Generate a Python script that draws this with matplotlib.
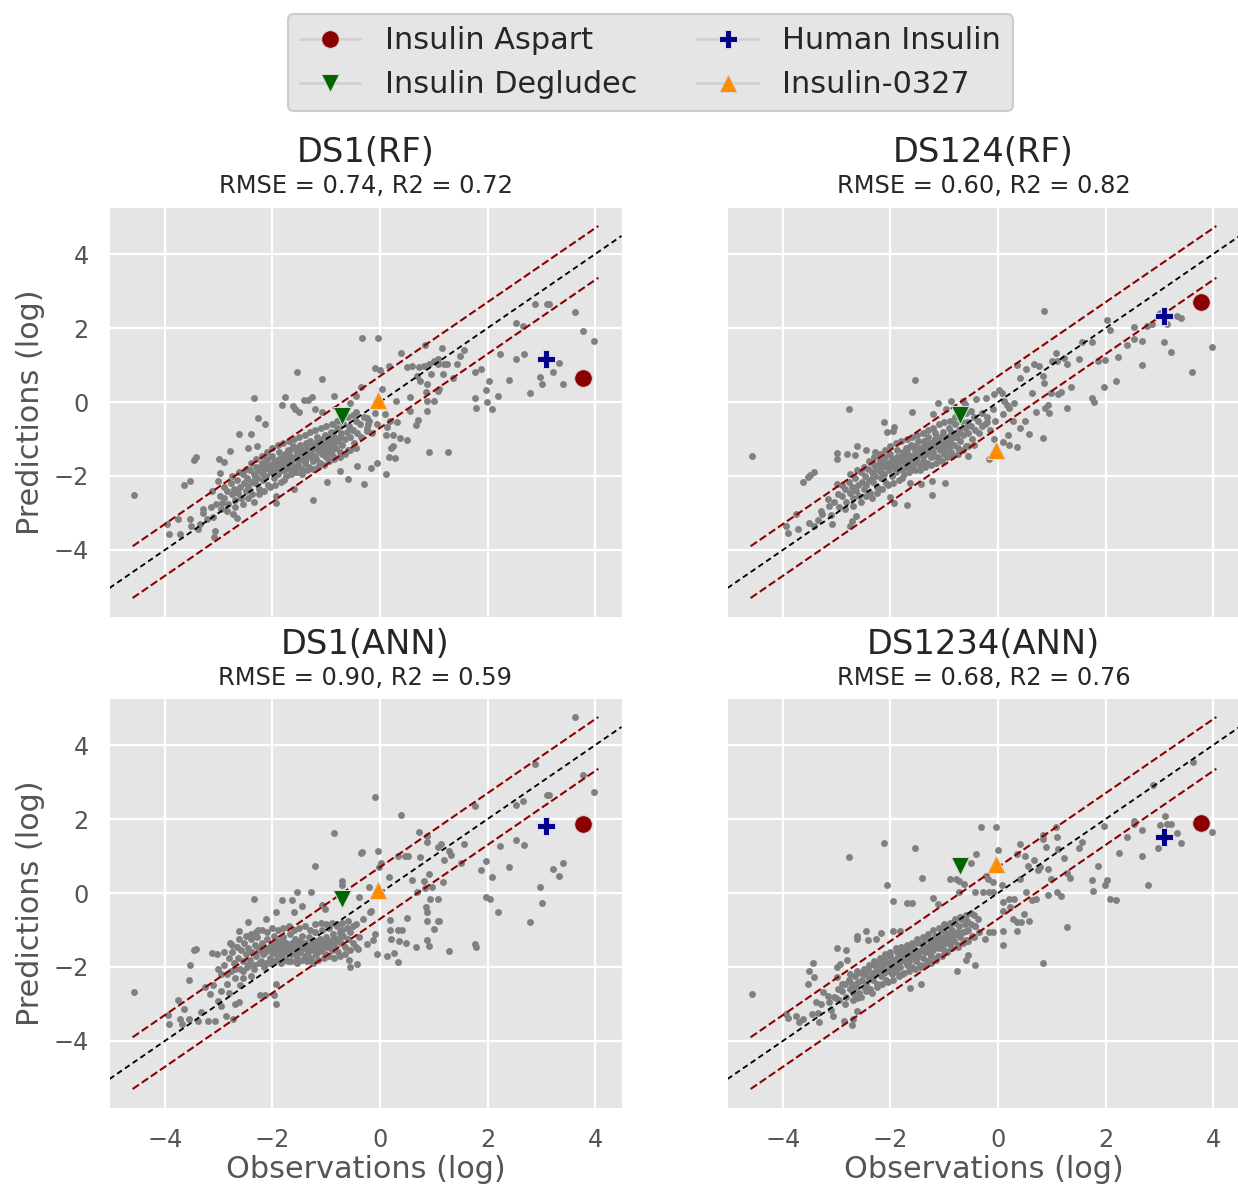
import matplotlib
matplotlib.use("Agg")
import matplotlib.pyplot as plt
import numpy as np

# ---------------- data ----------------
panel_titles = ["DS1(RF)", "DS124(RF)", "DS1(ANN)", "DS1234(ANN)"]
panel_stats = ["RMSE = 0.74, R2 = 0.72", "RMSE = 0.60, R2 = 0.82",
               "RMSE = 0.90, R2 = 0.59", "RMSE = 0.68, R2 = 0.76"]

insulin_names = ["Insulin Aspart", "Insulin Degludec", "Human Insulin", "Insulin-0327"]
insulin_obs = [3.78, -0.70, 3.08, -0.03]
insulin_pred_ds1_rf = [0.66, -0.37, 1.17, 0.06]
insulin_pred_ds124_rf = [2.70, -0.36, 2.33, -1.29]
insulin_pred_ds1_ann = [1.87, -0.15, 1.82, 0.08]
insulin_pred_ds1234_ann = [1.89, 0.72, 1.51, 0.78]

band_offset = 0.7
obs_min, obs_max = -4.6, 4.06

ds1_rf_points = [
    (-4.58, -2.52), (-3.92, -3.56), (-3.96, -3.31), (-3.76, -3.17), (-3.71, -3.58), (-3.64, -2.25),
    (-3.54, -2.14), (-3.46, -1.56), (-3.42, -1.49), (-3.54, -3.17), (-3.51, -3.35), (-3.39, -3.44),
    (-3.29, -2.90), (-3.21, -3.17), (-3.13, -2.41), (-3.08, -3.65), (-3.07, -3.49), (-3.00, -1.53),
    (-2.98, -1.91), (-2.90, -1.62), (-2.93, -2.72), (-3.01, -2.14), (-2.79, -1.33), (-2.63, -0.86),
    (-2.66, -3.13), (-2.73, -3.04), (-2.45, -1.24), (-2.40, -0.87), (-2.34, 0.12), (-2.26, -0.42),
    (-2.13, -0.59), (-2.29, -1.19), (-1.94, -2.54), (-1.94, -2.72), (-1.82, -0.08), (-1.77, 0.14),
    (-1.62, -0.11), (-1.58, -0.20), (-1.55, 0.82), (-1.50, -0.26), (-1.42, 0.06), (-1.34, 0.05),
    (-1.27, 0.14), (-1.20, -0.20), (-1.08, 0.61), (-1.08, -0.26), (-1.60, -2.36), (-1.24, -2.66),
    (-0.98, -2.16), (-0.60, -2.09), (-0.29, -2.23), (-0.75, -1.87), (-0.43, -1.73), (-0.17, -1.78),
    (-0.06, -1.65), (0.11, -1.96), (-0.33, 1.72), (-0.03, 1.72), (-0.36, 0.41), (-0.44, 0.16),
    (-0.55, -0.02), (-0.85, 0.16), (-0.65, -0.26), (-0.44, -0.26), (-0.25, -0.42), (-0.23, -0.59),
    (-0.25, -0.78), (-0.09, 0.93), (0.00, 0.86), (0.16, 0.97), (0.03, 0.34), (0.30, 0.03),
    (0.09, -0.33), (0.19, -0.51), (0.31, -0.53), (0.13, -0.68), (0.24, -0.89), (0.11, -0.90),
    (0.38, -0.96), (0.50, -1.04), (0.25, -1.19), (0.20, -1.25), (0.16, -1.48), (0.27, -1.52),
    (0.39, 1.33), (0.51, 0.95), (0.56, 0.14), (0.55, -0.23), (0.66, -0.62), (0.70, -0.49),
    (0.75, 0.57), (0.85, 0.28), (0.87, 0.03), (0.87, -0.24), (1.00, 0.03), (0.83, 1.54),
    (0.91, -1.34), (1.27, -1.35), (1.10, 0.34), (1.08, 0.30), (1.35, 0.66), (1.16, 1.47),
    (1.49, 1.24), (1.57, 1.42), (1.18, 0.75), (1.76, 0.82), (1.88, 0.88), (1.76, 0.12),
    (1.78, -0.15), (1.97, 0.32), (1.99, 0.00), (2.03, 0.57), (2.08, -0.18), (2.19, 0.16),
    (2.24, 1.29), (2.39, 0.59), (2.52, 2.13), (2.52, 1.15), (2.66, 2.06), (2.68, 1.29),
    (2.79, 0.24), (2.88, 2.64), (2.98, 0.68), (3.01, 0.50), (3.10, 2.66), (3.15, 2.66),
    (3.22, 0.81), (3.32, 1.06), (3.40, 0.50), (3.62, 2.43), (3.77, 1.92), (3.98, 1.65),
    (0.60, 0.97), (0.72, 0.96), (0.82, 0.97), (0.91, 1.02), (1.00, 1.11), (1.07, 1.04),
    (1.19, 1.04), (1.25, 1.02), (0.94, 0.75), (0.69, 0.70), (0.88, 0.50), (1.07, 1.15), (1.44, 1.04),
    (-3.05, -2.75), (-2.98, -2.55), (-2.95, -2.90), (-2.90, -2.60), (-2.85, -2.40), (-2.82, -2.75),
    (-2.78, -2.20), (-2.75, -2.50), (-2.72, -2.35), (-2.70, -2.65), (-2.66, -2.10), (-2.64, -2.45),
    (-2.60, -2.30), (-2.58, -2.60), (-2.55, -1.95), (-2.52, -2.20), (-2.50, -2.40), (-2.48, -2.05),
    (-2.45, -2.30), (-2.42, -1.85), (-2.40, -2.15), (-2.38, -2.50), (-2.35, -1.95), (-2.32, -2.20),
    (-2.30, -1.75), (-2.28, -2.05), (-2.25, -2.35), (-2.22, -1.90), (-2.20, -1.65), (-2.18, -2.10),
    (-2.15, -1.80), (-2.12, -2.00), (-2.10, -1.55), (-2.08, -2.25), (-2.05, -1.70), (-2.02, -1.90),
    (-2.00, -1.45), (-1.98, -2.05), (-1.95, -1.75), (-1.92, -1.60), (-1.90, -1.95), (-1.88, -1.35),
    (-1.85, -1.70), (-1.82, -1.85), (-1.80, -1.50), (-1.78, -2.10), (-1.75, -1.60), (-1.72, -1.30),
    (-1.70, -1.80), (-1.68, -1.45), (-1.65, -1.65), (-1.62, -1.20), (-1.60, -1.90), (-1.58, -1.50),
    (-1.55, -1.35), (-1.52, -1.70), (-1.50, -1.55), (-1.48, -1.15), (-1.45, -1.80), (-1.42, -1.40),
    (-1.40, -1.60), (-1.38, -1.25), (-1.35, -1.50), (-1.32, -1.75), (-1.30, -1.05), (-1.28, -1.35),
    (-1.25, -1.60), (-1.22, -1.20), (-1.20, -1.45), (-1.18, -0.95), (-1.15, -1.30), (-1.12, -1.65),
    (-1.10, -1.10), (-1.08, -1.40), (-1.05, -1.20), (-1.02, -0.90), (-1.00, -1.50), (-0.98, -1.05),
    (-0.95, -1.30), (-0.92, -0.80), (-0.90, -1.15), (-0.88, -1.45), (-0.85, -0.95), (-0.82, -1.25),
    (-0.80, -0.70), (-0.78, -1.05), (-0.75, -1.35), (-0.72, -0.85), (-0.70, -1.15), (-0.68, -0.60),
    (-0.65, -1.00), (-0.62, -0.80), (-0.60, -1.30), (-0.58, -0.65), (-0.55, -0.95), (-0.50, -0.75),
    (-0.48, -1.10), (-0.45, -0.50), (-0.42, -0.85), (-0.38, -0.60), (-0.35, -0.95), (-0.30, -0.40),
    (-0.25, -0.70), (-0.20, -0.50), (-0.15, -0.85), (-0.10, -0.30), (-0.05, -0.60),
    (-2.27, -1.85), (-2.13, -1.70), (-1.97, -1.60), (-1.87, -1.55), (-1.77, -1.40), (-1.67, -1.30),
    (-1.57, -1.25), (-1.47, -1.30), (-1.37, -1.10), (-1.27, -1.15), (-1.17, -1.05), (-1.07, -1.00),
    (-0.97, -1.20), (-0.87, -0.85), (-2.33, -2.05), (-2.17, -1.95), (-1.93, -1.80), (-1.73, -1.70),
    (-1.53, -1.60), (-1.33, -1.40), (-1.13, -1.25), (-0.93, -1.00),
    (-3.30, -3.00), (-3.15, -2.85), (-3.10, -3.10), (-3.35, -3.30),
]
ds1_rf_core_extra = [
    (-2.90, -2.30), (-2.85, -2.95), (-2.75, -2.00), (-2.70, -2.85), (-2.62, -1.90), (-2.55, -2.75),
    (-2.50, -1.80), (-2.45, -2.60), (-2.40, -1.65), (-2.35, -2.70), (-2.30, -1.55), (-2.25, -2.50),
    (-2.20, -1.45), (-2.15, -2.40), (-2.10, -1.35), (-2.05, -2.30), (-2.00, -1.25), (-1.95, -2.25),
    (-1.90, -1.15), (-1.85, -2.15), (-1.80, -1.10), (-1.75, -2.00), (-1.70, -1.05), (-1.65, -1.95),
    (-1.60, -1.00), (-1.55, -1.90), (-1.50, -0.95), (-1.45, -1.95), (-1.40, -0.90), (-1.35, -1.85),
    (-1.30, -0.80), (-1.25, -1.80), (-1.20, -0.75), (-1.15, -1.75), (-1.10, -0.70), (-1.05, -1.70),
    (-1.00, -0.65), (-0.95, -1.60), (-0.90, -0.60), (-0.85, -1.55), (-0.80, -0.50), (-0.75, -1.50),
    (-0.70, -0.45), (-0.65, -1.40), (-0.60, -0.40), (-0.55, -1.30), (-0.50, -0.35), (-0.45, -1.25),
    (-2.24, -1.75), (-2.06, -1.80), (-1.96, -1.70), (-1.84, -1.60), (-1.74, -1.50), (-1.64, -1.55),
    (-1.54, -1.45), (-1.44, -1.50), (-1.34, -1.30), (-1.24, -1.25), (-1.14, -1.15), (-1.04, -1.30),
    (-0.94, -1.10), (-0.84, -1.05), (-0.74, -0.95), (-1.89, -1.75), (-1.69, -1.55), (-1.49, -1.40),
    (-1.29, -1.50), (-1.09, -1.35), (-0.89, -1.30), (-1.79, -1.85), (-1.59, -1.75), (-1.39, -1.65),
    (-1.19, -1.55), (-0.99, -1.40),
]

ds124_rf_points = [
    (-4.57, -1.46), (-3.94, -3.35), (-3.90, -3.55), (-3.75, -3.04), (-3.71, -3.44), (-3.62, -2.16),
    (-3.54, -2.03), (-3.49, -1.97), (-3.42, -1.88), (-3.52, -3.26), (-3.43, -3.35), (-3.27, -3.04),
    (-3.17, -2.63), (-3.08, -3.31), (-3.00, -1.37), (-2.99, -1.53), (-3.00, -2.23), (-2.78, -0.20),
    (-2.80, -1.40), (-2.75, -3.34), (-2.71, -3.22), (-2.63, -1.19), (-2.66, -1.42), (-2.64, -3.08),
    (-2.46, -1.31), (-2.29, -1.34), (-2.12, -0.54), (-2.07, -0.80), (-1.94, -0.68), (-1.95, -0.78),
    (-2.00, -2.57), (-1.94, -2.72), (-1.70, -2.79), (-1.60, -0.26), (-1.54, 0.60), (-1.64, -2.18),
    (-1.44, -2.23), (-1.23, -2.52), (-1.23, -2.14), (-0.98, -2.20), (-1.12, -0.04), (-1.21, -0.33),
    (-0.96, -0.20), (-0.87, 0.03), (-0.65, 0.03), (-0.62, -0.06), (-0.56, -1.46), (-0.41, 0.09),
    (-0.22, 0.12), (-0.07, 0.21), (-0.16, -1.55), (-0.08, -0.99), (0.09, -0.33), (0.16, -0.08),
    (0.12, 0.03), (0.07, 0.25), (0.02, 0.32), (0.30, -0.02), (0.21, -0.17), (0.27, -0.51),
    (0.18, -0.90), (0.10, -1.07), (0.20, -1.16), (0.36, -1.22), (0.41, -0.71), (0.51, -0.50),
    (0.58, -0.87), (0.70, -0.26), (0.83, -0.96), (0.86, 2.46), (0.36, 0.99), (0.41, 0.66),
    (0.52, 0.88), (0.64, 0.25), (0.67, 1.02), (0.77, 0.97), (0.83, 0.70), (0.86, 0.52),
    (0.88, -0.17), (0.92, -0.08), (0.95, -0.31), (0.98, 0.25), (1.01, 1.11), (1.07, 1.33),
    (1.10, 1.11), (1.12, 0.21), (1.17, 0.28), (1.22, 1.20), (1.29, 1.02), (1.28, -0.15),
    (1.35, 0.41), (1.51, 1.15), (1.57, 1.63), (1.75, 1.61), (1.74, 0.12), (1.78, 0.00),
    (1.86, 1.11), (1.97, 0.41), (1.99, 1.14), (2.03, 2.21), (2.08, 1.95), (2.19, 0.57),
    (2.23, 1.23), (2.40, 1.54), (2.52, 2.03), (2.52, 1.71), (2.67, 1.65), (2.68, 1.00),
    (2.77, 2.06), (2.86, 2.12), (3.08, 1.61), (3.14, 2.12), (3.22, 1.36), (3.33, 2.33),
    (3.40, 2.26), (3.60, 0.82), (3.98, 1.49), (3.02, 2.42),
    (-3.05, -2.70), (-2.98, -2.50), (-2.95, -2.85), (-2.90, -2.55), (-2.85, -2.35), (-2.82, -2.70),
    (-2.78, -2.15), (-2.75, -2.45), (-2.72, -2.30), (-2.70, -2.60), (-2.66, -2.05), (-2.64, -2.40),
    (-2.60, -2.25), (-2.58, -2.55), (-2.55, -1.90), (-2.52, -2.15), (-2.50, -2.35), (-2.48, -2.00),
    (-2.45, -2.25), (-2.42, -1.80), (-2.40, -2.10), (-2.38, -2.45), (-2.35, -1.90), (-2.32, -2.15),
    (-2.30, -1.70), (-2.28, -2.00), (-2.25, -2.30), (-2.22, -1.85), (-2.20, -1.60), (-2.18, -2.05),
    (-2.15, -1.75), (-2.12, -1.95), (-2.10, -1.50), (-2.08, -2.20), (-2.05, -1.65), (-2.02, -1.85),
    (-2.00, -1.40), (-1.98, -2.00), (-1.95, -1.70), (-1.92, -1.55), (-1.90, -1.90), (-1.88, -1.30),
    (-1.85, -1.65), (-1.82, -1.80), (-1.80, -1.45), (-1.78, -2.05), (-1.75, -1.55), (-1.72, -1.25),
    (-1.70, -1.75), (-1.68, -1.40), (-1.65, -1.60), (-1.62, -1.15), (-1.60, -1.80), (-1.58, -1.45),
    (-1.55, -1.30), (-1.52, -1.60), (-1.50, -1.45), (-1.48, -1.05), (-1.45, -1.70), (-1.42, -1.30),
    (-1.40, -1.50), (-1.38, -1.15), (-1.35, -1.40), (-1.32, -1.65), (-1.30, -0.95), (-1.28, -1.25),
    (-1.25, -1.50), (-1.22, -1.10), (-1.20, -1.35), (-1.18, -0.85), (-1.15, -1.20), (-1.12, -1.50),
    (-1.10, -1.00), (-1.08, -1.30), (-1.05, -1.10), (-1.02, -0.80), (-1.00, -1.40), (-0.98, -0.95),
    (-0.95, -1.20), (-0.92, -0.70), (-0.90, -1.05), (-0.88, -1.35), (-0.85, -0.85), (-0.82, -1.15),
    (-0.80, -0.60), (-0.78, -0.95), (-0.75, -1.25), (-0.72, -0.75), (-0.70, -1.05), (-0.68, -0.50),
    (-0.65, -0.90), (-0.62, -0.70), (-0.60, -1.20), (-0.58, -0.55), (-0.55, -0.85), (-0.50, -0.65),
    (-0.48, -1.00), (-0.45, -0.40), (-0.42, -0.75), (-0.38, -0.50), (-0.35, -0.85), (-0.30, -0.30),
    (-0.25, -0.60), (-0.20, -0.40), (-0.15, -0.75), (-0.10, -0.20), (-0.05, -0.50), (-0.30, -0.65),
    (-0.20, -0.55),
    (-2.27, -1.80), (-2.13, -1.65), (-1.97, -1.55), (-1.87, -1.50), (-1.77, -1.35), (-1.67, -1.25),
    (-1.57, -1.20), (-1.47, -1.25), (-1.37, -1.05), (-1.27, -1.10), (-1.17, -1.00), (-1.07, -0.95),
    (-0.97, -1.10), (-0.87, -0.80), (-2.33, -2.00), (-2.17, -1.90), (-1.93, -1.75), (-1.73, -1.65),
    (-1.53, -1.55), (-1.33, -1.35), (-1.13, -1.20), (-0.93, -0.95),
    (-3.30, -2.95), (-3.15, -2.80), (-3.10, -3.05), (-3.35, -3.20),
]
ds124_rf_core_extra = [
    (-2.90, -2.25), (-2.85, -2.90), (-2.75, -1.95), (-2.70, -2.80), (-2.62, -1.85), (-2.55, -2.70),
    (-2.50, -1.75), (-2.45, -2.55), (-2.40, -1.60), (-2.35, -2.60), (-2.30, -1.50), (-2.25, -2.45),
    (-2.20, -1.40), (-2.15, -2.35), (-2.10, -1.30), (-2.05, -2.25), (-2.00, -1.20), (-1.95, -2.20),
    (-1.90, -1.10), (-1.85, -2.10), (-1.80, -1.05), (-1.75, -1.95), (-1.70, -1.00), (-1.65, -1.90),
    (-1.60, -0.95), (-1.55, -1.85), (-1.50, -0.90), (-1.45, -1.85), (-1.40, -0.85), (-1.35, -1.75),
    (-1.30, -0.75), (-1.25, -1.70), (-1.20, -0.70), (-1.15, -1.65), (-1.10, -0.60), (-1.05, -1.60),
    (-1.00, -0.55), (-0.95, -1.50), (-0.90, -0.50), (-0.85, -1.45), (-0.80, -0.40), (-0.75, -1.40),
    (-0.70, -0.35), (-0.65, -1.30), (-0.60, -0.30), (-0.55, -1.20), (-0.50, -0.25), (-0.45, -1.15),
    (-2.24, -1.70), (-2.06, -1.75), (-1.96, -1.65), (-1.84, -1.55), (-1.74, -1.45), (-1.64, -1.50),
    (-1.54, -1.40), (-1.44, -1.40), (-1.34, -1.25), (-1.24, -1.20), (-1.14, -1.10), (-1.04, -1.20),
    (-0.94, -1.00), (-0.84, -0.95), (-0.74, -0.85), (-1.89, -1.70), (-1.69, -1.50), (-1.49, -1.35),
    (-1.29, -1.40), (-1.09, -1.25), (-0.89, -1.20), (-1.79, -1.80), (-1.59, -1.70), (-1.39, -1.60),
    (-1.19, -1.45), (-0.99, -1.30),
]

ds1_ann_points = [
    (-4.58, -2.67), (-3.92, -3.55), (-3.95, -3.30), (-3.76, -2.89), (-3.72, -3.41), (-3.68, -3.55),
    (-3.64, -3.14), (-3.56, -2.35), (-3.53, -1.94), (-3.45, -1.54), (-3.42, -1.52), (-3.56, -3.41),
    (-3.39, -3.46), (-3.32, -3.23), (-3.25, -2.54), (-3.20, -3.46), (-3.17, -2.72), (-3.07, -3.46),
    (-3.13, -1.61), (-3.02, -2.06), (-3.01, -2.92), (-2.96, -3.05), (-3.04, -1.64), (-2.87, -3.32),
    (-2.79, -1.34), (-2.73, -3.41), (-2.70, -3.01), (-2.63, -2.96), (-2.63, -1.02), (-2.45, -0.79),
    (-2.34, -0.16), (-2.27, -1.00), (-2.12, -0.71), (-1.94, -0.50), (-1.93, -3.01), (-1.97, -2.76),
    (-2.13, -2.76), (-2.24, -2.76), (-1.94, -2.45), (-1.82, -0.19), (-1.63, -0.19), (-1.55, 0.02),
    (-1.29, 0.02), (-1.20, 0.74), (-1.60, -0.52), (-1.46, -0.34), (-1.07, -0.32), (-1.03, -0.43),
    (-0.85, 1.63), (-0.70, 0.32), (-0.70, 0.23), (-0.56, -2.00), (-0.43, -1.91), (-0.58, -1.82),
    (-0.41, -1.52), (-0.25, -1.38), (-0.06, -1.64), (-0.13, -1.27), (-0.36, 1.07), (-0.33, 1.11),
    (-0.09, 2.59), (-0.03, 1.13), (0.01, 0.81), (-0.01, 0.70), (-0.21, 0.17), (-0.39, -0.12),
    (-0.31, -0.70), (-0.19, -0.52), (-0.16, -0.48), (-0.09, -1.11), (0.16, 0.42), (0.18, -0.73),
    (0.19, -1.00), (0.33, -1.00), (0.20, -1.25), (0.36, -1.31), (0.13, -1.70), (0.26, -1.61),
    (0.33, -1.86), (0.41, -1.00), (0.50, -0.68), (0.49, -1.34), (0.66, -1.47), (0.39, 2.12),
    (0.34, 0.99), (0.47, 0.99), (0.52, 0.99), (0.60, 0.36), (0.69, 0.04), (0.72, 1.66),
    (0.74, 0.97), (0.82, 0.33), (0.83, 0.14), (0.87, 1.53), (0.88, 1.37), (0.91, 0.51),
    (0.93, -0.16), (0.85, -0.37), (0.87, -0.50), (0.87, -0.75), (0.91, -1.43), (0.87, -1.27),
    (1.00, -0.98), (1.07, -0.77), (1.10, -0.77), (1.08, -0.16), (0.97, 0.15), (1.07, 1.24),
    (1.13, 1.33), (1.29, 1.13), (1.32, 1.04), (1.19, 0.88), (1.18, 0.29), (1.29, -1.56),
    (1.50, 0.81), (1.57, 1.33), (1.76, 2.34), (1.76, -1.38), (1.78, -1.45), (1.87, 0.63),
    (1.97, 0.86), (1.97, -0.12), (2.05, -0.16), (2.08, 0.44), (2.19, -0.51), (2.24, 1.26),
    (2.39, 0.71), (2.52, 2.37), (2.52, 1.44), (2.66, 2.48), (2.68, 1.31), (2.79, -0.79),
    (2.88, 3.50), (2.98, 0.15), (3.01, -0.26), (3.10, 2.64), (3.15, 2.66), (3.22, 0.65),
    (3.32, 0.45), (3.40, 0.80), (3.62, 4.76), (3.77, 3.18), (3.98, 2.73),
    (-2.95, -2.20), (-2.90, -1.95), (-2.85, -2.45), (-2.80, -1.75), (-2.78, -2.10), (-2.75, -1.60),
    (-2.72, -1.90), (-2.70, -2.30), (-2.66, -1.45), (-2.64, -1.75), (-2.60, -2.05), (-2.58, -1.55),
    (-2.55, -1.85), (-2.52, -1.35), (-2.50, -1.65), (-2.48, -2.00), (-2.45, -1.50), (-2.42, -1.80),
    (-2.40, -1.25), (-2.38, -1.60), (-2.35, -1.95), (-2.32, -1.40), (-2.30, -1.70), (-2.28, -1.20),
    (-2.25, -1.55), (-2.22, -1.85), (-2.20, -1.35), (-2.18, -1.65), (-2.15, -1.45), (-2.12, -1.90),
    (-2.10, -1.25), (-2.08, -1.55), (-2.05, -1.75), (-2.02, -1.40), (-2.00, -1.60), (-1.98, -1.15),
    (-1.95, -1.50), (-1.92, -1.80), (-1.90, -1.30), (-1.88, -1.60), (-1.85, -1.45), (-1.82, -1.70),
    (-1.80, -1.20), (-1.78, -1.55), (-1.75, -1.35), (-1.72, -1.85), (-1.70, -1.50), (-1.68, -1.10),
    (-1.65, -1.65), (-1.62, -1.40), (-1.60, -1.55), (-1.58, -1.25), (-1.55, -1.75), (-1.52, -1.45),
    (-1.50, -1.30), (-1.48, -1.60), (-1.45, -1.15), (-1.42, -1.50), (-1.40, -1.70), (-1.38, -1.35),
    (-1.35, -1.55), (-1.32, -1.20), (-1.30, -1.45), (-1.28, -1.75), (-1.25, -1.30), (-1.22, -1.55),
    (-1.20, -1.05), (-1.18, -1.40), (-1.15, -1.60), (-1.12, -1.25), (-1.10, -1.50), (-1.08, -1.00),
    (-1.05, -1.35), (-1.02, -1.65), (-1.00, -1.20), (-0.98, -1.45), (-0.95, -0.95), (-0.92, -1.30),
    (-0.90, -1.55), (-0.88, -1.10), (-0.85, -1.40), (-0.82, -0.85), (-0.80, -1.25), (-0.78, -1.60),
    (-0.75, -1.05), (-0.72, -1.35), (-0.70, -0.80), (-0.68, -1.15), (-0.65, -1.45), (-0.62, -0.95),
    (-0.60, -1.25), (-0.55, -1.05), (-0.50, -1.35), (-0.45, -0.85), (-0.40, -1.20),
    (-2.27, -1.50), (-2.13, -1.60), (-1.97, -1.45), (-1.87, -1.50), (-1.77, -1.45), (-1.67, -1.50),
    (-1.57, -1.40), (-1.47, -1.45), (-1.37, -1.45), (-1.27, -1.40), (-1.17, -1.30), (-1.07, -1.45),
    (-0.97, -1.30), (-0.87, -1.25), (-2.33, -1.65), (-2.17, -1.55), (-1.93, -1.65), (-1.73, -1.60),
    (-1.53, -1.55), (-1.33, -1.60), (-1.13, -1.50), (-0.93, -1.40),
    (-3.10, -2.50), (-2.95, -2.65), (-2.80, -2.70), (-2.60, -2.50), (-2.55, -2.30), (-2.40, -2.25),
]
ds1_ann_core_extra = [
    (-2.90, -1.60), (-2.85, -2.20), (-2.75, -1.40), (-2.70, -2.05), (-2.62, -1.25), (-2.55, -2.10),
    (-2.50, -1.15), (-2.45, -1.95), (-2.40, -1.10), (-2.35, -2.05), (-2.30, -1.05), (-2.25, -1.90),
    (-2.20, -1.00), (-2.15, -2.00), (-2.10, -1.05), (-2.05, -1.90), (-2.00, -0.95), (-1.95, -1.85),
    (-1.90, -1.00), (-1.85, -1.90), (-1.80, -0.95), (-1.75, -1.80), (-1.70, -0.90), (-1.65, -1.85),
    (-1.60, -1.00), (-1.55, -1.90), (-1.50, -0.95), (-1.45, -1.80), (-1.40, -0.90), (-1.35, -1.85),
    (-1.30, -1.00), (-1.25, -1.90), (-1.20, -0.85), (-1.15, -1.80), (-1.10, -0.80), (-1.05, -1.75),
    (-1.00, -0.85), (-0.95, -1.70), (-0.90, -0.80), (-0.85, -1.75), (-0.80, -0.90), (-0.75, -1.70),
    (-0.70, -1.00), (-0.65, -1.65), (-0.60, -0.75), (-0.55, -1.55), (-0.50, -0.90), (-0.45, -1.45),
    (-2.24, -1.45), (-2.06, -1.50), (-1.96, -1.35), (-1.84, -1.40), (-1.74, -1.55), (-1.64, -1.35),
    (-1.54, -1.45), (-1.44, -1.35), (-1.34, -1.50), (-1.24, -1.35), (-1.14, -1.40), (-1.04, -1.30),
    (-0.94, -1.45), (-0.84, -1.30), (-0.74, -1.20), (-1.89, -1.55), (-1.69, -1.45), (-1.49, -1.60),
    (-1.29, -1.55), (-1.09, -1.55), (-0.89, -1.50), (-1.79, -1.35), (-1.59, -1.65), (-1.39, -1.40),
    (-1.19, -1.65), (-0.99, -1.35),
]

ds1234_ann_points = [
    (-4.57, -2.74), (-3.94, -3.28), (-3.90, -3.37), (-3.75, -3.32), (-3.70, -3.49), (-3.62, -3.41),
    (-3.52, -2.10), (-3.43, -2.26), (-3.44, -1.90), (-3.54, -2.45), (-3.39, -2.96), (-3.46, -3.28),
    (-3.33, -3.50), (-3.25, -2.69), (-3.17, -2.78), (-3.07, -3.32), (-3.01, -2.83), (-3.00, -1.50),
    (-2.99, -1.99), (-2.99, -2.27), (-2.93, -1.91), (-2.83, -1.54), (-2.81, -1.82), (-2.78, 0.97),
    (-2.86, -3.46), (-2.71, -3.58), (-2.69, -3.41), (-2.63, -3.19), (-2.63, -2.83), (-2.63, -1.16),
    (-2.63, -1.25), (-2.46, -1.04), (-2.41, -1.27), (-2.26, -1.25), (-2.12, 1.36), (-2.06, 0.22),
    (-2.17, -1.08), (-1.95, -0.21), (-1.95, -1.02), (-1.83, -1.04), (-1.70, -0.27), (-1.60, -0.27),
    (-1.54, 1.21), (-1.42, 0.40), (-1.64, -2.56), (-1.43, -2.47), (-1.20, -0.14), (-1.12, -0.30),
    (-0.90, 0.38), (-0.76, -2.12), (-0.78, 0.38), (-0.73, 0.32), (-0.64, 0.24), (-0.72, 0.02),
    (-0.50, 0.81), (-0.41, 1.06), (-0.32, 1.78), (-0.04, 1.78), (0.00, 1.17), (-0.23, 0.47),
    (-0.19, 0.38), (-0.10, 0.31), (0.07, 0.22), (-0.42, 0.02), (-0.28, 0.02), (-0.17, 0.02),
    (-0.10, 0.02), (-0.59, -1.02), (-0.59, -1.27), (-0.56, -1.68), (-0.59, -1.82), (-0.43, -1.94),
    (-0.42, -0.89), (-0.24, -1.25), (-0.17, -1.05), (-0.10, -1.05), (0.10, -1.04), (0.10, -1.40),
    (0.09, -0.25), (0.10, -0.48), (0.20, -0.16), (0.30, -0.16), (0.22, -0.39), (0.27, -0.70),
    (0.36, -0.79), (0.43, -0.79), (0.36, -1.02), (0.49, -0.57), (0.57, -0.77), (0.52, 0.02),
    (0.64, -0.19), (0.70, -0.16), (0.92, -0.05), (1.10, 0.04), (1.17, -0.09), (1.28, -0.91),
    (0.83, -1.90), (0.40, 1.33), (0.36, 1.06), (0.40, 0.38), (0.51, 0.99), (0.55, 0.74),
    (0.66, 0.88), (0.75, 0.61), (0.78, 0.71), (0.83, 1.58), (0.83, 1.46), (0.89, 1.24),
    (0.92, 0.65), (0.98, 0.38), (1.07, 1.78), (1.09, 1.51), (1.12, 1.19), (1.23, 0.95),
    (1.29, 0.53), (1.34, 0.40), (1.51, 1.22), (1.57, 1.37), (1.86, 0.72), (1.75, 0.35),
    (1.77, 0.06), (1.99, 0.23), (2.03, 0.35), (2.09, -0.16), (2.20, -0.19), (1.97, 1.80),
    (2.25, 1.07), (2.40, 1.51), (2.52, 1.96), (2.52, 1.87), (2.67, 1.71), (2.68, 1.01),
    (2.79, 0.23), (2.88, 2.93), (2.98, 1.22), (3.02, 1.84), (3.11, 2.07), (3.14, 1.87),
    (3.22, 1.87), (3.33, 1.62), (3.40, 1.35), (3.62, 3.54), (3.98, 1.66),
    (-3.05, -2.80), (-2.98, -2.60), (-2.95, -2.90), (-2.90, -2.65), (-2.85, -2.45), (-2.82, -2.80),
    (-2.78, -2.35), (-2.75, -2.60), (-2.72, -2.45), (-2.70, -2.70), (-2.66, -2.25), (-2.64, -2.55),
    (-2.60, -2.40), (-2.58, -2.70), (-2.55, -2.15), (-2.52, -2.35), (-2.50, -2.55), (-2.48, -2.20),
    (-2.45, -2.45), (-2.42, -2.05), (-2.40, -2.30), (-2.38, -2.60), (-2.35, -2.15), (-2.32, -2.35),
    (-2.30, -1.95), (-2.28, -2.20), (-2.25, -2.45), (-2.22, -2.05), (-2.20, -1.85), (-2.18, -2.25),
    (-2.15, -2.00), (-2.12, -2.15), (-2.10, -1.80), (-2.08, -2.35), (-2.05, -1.90), (-2.02, -2.05),
    (-2.00, -1.70), (-1.98, -2.20), (-1.95, -1.95), (-1.92, -1.80), (-1.90, -2.10), (-1.88, -1.60),
    (-1.85, -1.90), (-1.82, -2.00), (-1.80, -1.70), (-1.78, -2.20), (-1.75, -1.80), (-1.72, -1.55),
    (-1.70, -1.95), (-1.68, -1.65), (-1.65, -1.85), (-1.62, -1.45), (-1.60, -2.00), (-1.58, -1.70),
    (-1.55, -1.55), (-1.52, -1.85), (-1.50, -1.70), (-1.48, -1.35), (-1.45, -1.95), (-1.42, -1.55),
    (-1.40, -1.75), (-1.38, -1.40), (-1.35, -1.60), (-1.32, -1.85), (-1.30, -1.25), (-1.28, -1.50),
    (-1.25, -1.70), (-1.22, -1.35), (-1.20, -1.55), (-1.18, -1.15), (-1.15, -1.40), (-1.12, -1.70),
    (-1.10, -1.20), (-1.08, -1.45), (-1.05, -1.30), (-1.02, -1.00), (-1.00, -1.55), (-0.98, -1.15),
    (-0.95, -1.35), (-0.92, -0.90), (-0.90, -1.20), (-0.88, -1.50), (-0.85, -1.00), (-0.82, -1.30),
    (-0.80, -0.80), (-0.78, -1.10), (-0.75, -1.40), (-0.72, -0.90), (-0.70, -1.20), (-0.68, -0.70),
    (-0.65, -1.05), (-0.62, -0.85), (-0.60, -1.30), (-0.58, -0.75), (-0.55, -1.00), (-0.50, -0.85),
    (-0.48, -1.15), (-0.45, -0.60), (-0.42, -0.90), (-0.38, -0.70), (-0.35, -1.05),
    (-2.27, -2.10), (-2.13, -1.95), (-1.97, -1.85), (-1.87, -1.75), (-1.77, -1.65), (-1.67, -1.60),
    (-1.57, -1.55), (-1.47, -1.60), (-1.37, -1.45), (-1.27, -1.40), (-1.17, -1.30), (-1.07, -1.20),
    (-0.97, -1.25), (-0.87, -1.05), (-2.33, -2.25), (-2.17, -2.15), (-1.93, -2.00), (-1.73, -1.85),
    (-1.53, -1.75), (-1.33, -1.55), (-1.13, -1.45), (-0.93, -1.10),
    (-3.30, -3.00), (-3.15, -2.95), (-3.10, -3.15), (-3.35, -3.25),
]
ds1234_ann_core_extra = [
    (-2.90, -2.45), (-2.85, -3.00), (-2.75, -2.20), (-2.70, -2.90), (-2.62, -2.10), (-2.55, -2.80),
    (-2.50, -2.05), (-2.45, -2.65), (-2.40, -1.95), (-2.35, -2.70), (-2.30, -1.85), (-2.25, -2.55),
    (-2.20, -1.75), (-2.15, -2.45), (-2.10, -1.65), (-2.05, -2.40), (-2.00, -1.60), (-1.95, -2.35),
    (-1.90, -1.50), (-1.85, -2.25), (-1.80, -1.45), (-1.75, -2.15), (-1.70, -1.40), (-1.65, -2.10),
    (-1.60, -1.35), (-1.55, -2.05), (-1.50, -1.25), (-1.45, -2.00), (-1.40, -1.20), (-1.35, -1.95),
    (-1.30, -1.10), (-1.25, -1.90), (-1.20, -1.00), (-1.15, -1.80), (-1.10, -0.95), (-1.05, -1.70),
    (-1.00, -0.85), (-0.95, -1.60), (-0.90, -0.80), (-0.85, -1.50), (-0.80, -0.70), (-0.75, -1.45),
    (-0.70, -0.65), (-0.65, -1.35), (-0.60, -0.60), (-0.55, -1.30), (-0.50, -0.55), (-0.45, -1.20),
    (-2.24, -2.00), (-2.06, -2.10), (-1.96, -1.90), (-1.84, -1.80), (-1.74, -1.75), (-1.64, -1.70),
    (-1.54, -1.65), (-1.44, -1.55), (-1.34, -1.50), (-1.24, -1.45), (-1.14, -1.35), (-1.04, -1.40),
    (-0.94, -1.20), (-0.84, -1.15), (-0.74, -1.05), (-1.89, -1.95), (-1.69, -1.80), (-1.49, -1.70),
    (-1.29, -1.60), (-1.09, -1.50), (-0.89, -1.35), (-1.79, -1.60), (-1.59, -1.50), (-1.39, -1.35),
    (-1.19, -1.30), (-0.99, -1.05),
]

panel_points = [ds1_rf_points + ds1_rf_core_extra,
                ds124_rf_points + ds124_rf_core_extra,
                ds1_ann_points + ds1_ann_core_extra,
                ds1234_ann_points + ds1234_ann_core_extra]
panel_insulin_preds = [insulin_pred_ds1_rf, insulin_pred_ds124_rf,
                       insulin_pred_ds1_ann, insulin_pred_ds1234_ann]

x_ticks = [-4, -2, 0, 2, 4]
y_ticks = [-4, -2, 0, 2, 4]

# ---------------- styling ----------------
BG = "#E5E5E5"
TICK_C = "#555555"
TXT_C = "#262626"
insulin_colors = ["darkred", "darkgreen", "darkblue", "darkorange"]
insulin_markers = ["o", "v", "P", "^"]

W, H, DPI = 1238, 1187, 150
fig = plt.figure(figsize=(W / DPI, H / DPI), dpi=DPI)

ax_w, ax_h = 512 / W, 409 / H
lefts = [109.5 / W, 727.5 / W]
bottoms = [(H - 616.5) / H, (H - 1107.5) / H]

handles = []
for i in range(4):
    r, c = divmod(i, 2)
    ax = fig.add_axes([lefts[c], bottoms[r], ax_w, ax_h])
    ax.set_facecolor(BG)
    for s in ax.spines.values():
        s.set_visible(False)
    ax.set_axisbelow(True)
    ax.grid(True, color="white", linewidth=1.1)
    ax.set_xlim(-5.03, 4.49)
    ax.set_ylim(-5.8, 5.26)
    ax.set_xticks(x_ticks)
    ax.set_yticks(y_ticks)
    ax.tick_params(length=0, labelsize=11.5, colors=TICK_C, pad=10)
    if r == 0:
        ax.tick_params(labelbottom=False)
    else:
        ax.set_xlabel("Observations (log)", fontsize=14.5, color=TICK_C, labelpad=1.5)
    if c == 1:
        ax.tick_params(labelleft=False)
    else:
        ax.set_ylabel("Predictions (log)", fontsize=14.5, color=TICK_C, labelpad=4)

    pts = np.array(panel_points[i])
    ax.scatter(pts[:, 0], pts[:, 1], s=11, color="#808080", linewidths=0, zorder=2)

    xl = np.array(ax.get_xlim())
    ax.plot(xl, xl, ls="--", color="black", lw=0.9, dashes=(3, 2), zorder=3)
    xb = np.array([obs_min, obs_max])
    ax.plot(xb, xb + band_offset, ls="--", color="darkred", lw=1.0, zorder=3)
    ax.plot(xb, xb - band_offset, ls="--", color="darkred", lw=1.0, zorder=3)

    preds = panel_insulin_preds[i]
    for k in range(4):
        h, = ax.plot([insulin_obs[k]], [preds[k]], marker=insulin_markers[k],
                     color="#cfcfcf", mfc=insulin_colors[k], mec="#d8d8d8", mew=0.5,
                     ms=8.5, lw=1.2, zorder=4, label=insulin_names[k])
        if i == 0:
            handles.append(h)

    ax.text(0.5, 1 + 45 / 409, panel_titles[i], transform=ax.transAxes,
            ha="center", va="baseline", fontsize=16.2, color=TXT_C)
    ax.text(0.5, 1 + 14 / 409, panel_stats[i], transform=ax.transAxes,
            ha="center", va="baseline", fontsize=11.6, color=TXT_C)

leg = fig.legend(handles, insulin_names,
                 loc="upper center", bbox_to_anchor=(650.5 / W, 1 - 14 / H),
                 borderaxespad=0.0, ncol=2, fontsize=14.5, frameon=True, facecolor=BG,
                 edgecolor="#cccccc", framealpha=1.0)
for t in leg.get_texts():
    t.set_color(TXT_C)

fig.savefig("out.png", dpi=DPI)
